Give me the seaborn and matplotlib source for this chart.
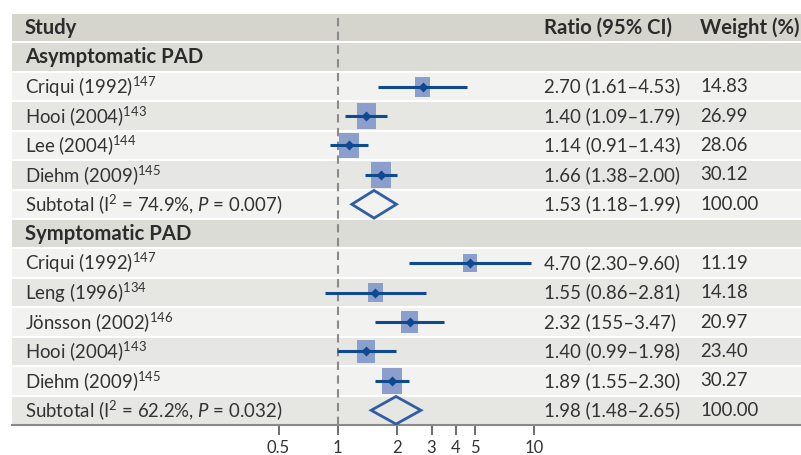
import numpy as np
import pandas as pd
import matplotlib
matplotlib.use("Agg")
import matplotlib.pyplot as plt
import matplotlib.transforms as mtransforms
from matplotlib.path import Path
from matplotlib.patches import Polygon
from matplotlib.ticker import FixedLocator, FixedFormatter, NullLocator
import seaborn as sns

# datos del forest plot
grupos = ["Asymptomatic PAD", "Symptomatic PAD"]
estudios = ["Criqui (1992)", "Hooi (2004)", "Lee (2004)", "Diehm (2009)",
            "Criqui (1992)", "Leng (1996)", "Jönsson (2002)", "Hooi (2004)", "Diehm (2009)"]
refs = ["147", "143", "144", "145", "147", "134", "146", "143", "145"]
grupo_idx = [0, 0, 0, 0, 1, 1, 1, 1, 1]
ratio = [2.70, 1.40, 1.14, 1.66, 4.70, 1.55, 2.32, 1.40, 1.89]
ci_lo = [1.61, 1.09, 0.91, 1.38, 2.30, 0.86, 1.55, 0.99, 1.55]
ci_hi = [4.53, 1.79, 1.43, 2.00, 9.60, 2.81, 3.47, 1.98, 2.30]
peso = [14.83, 26.99, 28.06, 30.12, 11.19, 14.18, 20.97, 23.40, 30.27]
ci_texto = ["2.70 (1.61–4.53)", "1.40 (1.09–1.79)", "1.14 (0.91–1.43)", "1.66 (1.38–2.00)",
            "4.70 (2.30–9.60)", "1.55 (0.86–2.81)", "2.32 (155–3.47)", "1.40 (0.99–1.98)",
            "1.89 (1.55–2.30)"]

sub_ratio = [1.53, 1.98]
sub_lo = [1.18, 1.48]
sub_hi = [1.99, 2.65]
sub_i2 = ["74.9", "62.2"]
sub_p = ["0.007", "0.032"]
sub_texto = ["1.53 (1.18–1.99)", "1.98 (1.48–2.65)"]

ticks = [0.5, 1, 2, 3, 4, 5, 10]
tick_labels = ["0.5", "1", "2", "3", "4", "5", "10"]

sns.set_theme(style="white")
plt.rcParams["font.family"] = ["Lato", "DejaVu Sans"]
plt.rcParams["mathtext.fontset"] = "custom"
plt.rcParams["mathtext.rm"] = "Lato"
plt.rcParams["mathtext.it"] = "Lato:italic"
plt.rcParams["mathtext.bf"] = "Lato:bold"

NAVY = "#0d4a8f"
CUADRO = "#8c9ecb"
TXT = "#333333"

# construir filas de la tabla
filas = []  # (tipo, indice)
filas.append(("head", None))
for g in range(2):
    filas.append(("grupo", g))
    for i in range(len(estudios)):
        if grupo_idx[i] == g:
            filas.append(("est", i))
    filas.append(("sub", g))

df = pd.DataFrame({
    "estudio": estudios, "ratio": ratio, "lo": ci_lo, "hi": ci_hi, "peso": peso,
})
df["fila"] = [k for k, (t, i) in enumerate(filas) if t == "est"]

fig = plt.figure(figsize=(8.01, 4.55), dpi=100)
W, H = 801, 455
ax = fig.add_axes([12 / W, 1 - 425 / H, (W - 12) / W, (425 - 13) / H])
ax.set_xscale("log")
ax.set_xlim(0.02204, 227.3)
ax.set_ylim(len(filas) - 0.5, -0.5)

# fondos de filas
for k, (t, i) in enumerate(filas):
    if t == "head":
        c = "#d5d5ce"
    elif t == "grupo":
        c = "#dcdcd6"
    else:
        c = "#f2f2f0" if k % 2 == 0 else "#e6e6e2"
    ax.axhspan(k - 0.5 + 0.035, k + 0.5 - 0.035, color=c, lw=0, zorder=0)

# linea de referencia
ax.axvline(1, color="#8a8a8a", lw=1.5, ls=(0, (4, 2.6)), zorder=1)

# cuadros ponderados (rectangulos)
w_px = 10.5 + 0.32 * df["peso"]
h_px = w_px * 1.32
rect = Path([(-0.38, -0.5), (0.38, -0.5), (0.38, 0.5), (-0.38, 0.5), (-0.38, -0.5)],
            [Path.MOVETO, Path.LINETO, Path.LINETO, Path.LINETO, Path.CLOSEPOLY])
sns.scatterplot(data=df, x="ratio", y="fila", marker=rect, s=(h_px * 0.72) ** 2,
                color=CUADRO, linewidth=0, ax=ax, zorder=2, legend=False)
ax.hlines(df["fila"], df["lo"], df["hi"], color=NAVY, lw=2.2, zorder=3)
sns.scatterplot(data=df, x="ratio", y="fila", marker="D", s=26, color=NAVY,
                linewidth=0, ax=ax, zorder=4, legend=False)

# diamantes de subtotal
for k, (t, g) in enumerate(filas):
    if t == "sub":
        dh = 0.47
        pts = [(sub_lo[g], k), (sub_ratio[g], k - dh), (sub_hi[g], k), (sub_ratio[g], k + dh)]
        ax.add_patch(Polygon(pts, closed=True, fill=False, edgecolor="#2f5ea6", lw=2, zorder=4))

# textos de la tabla
tr = mtransforms.blended_transform_factory(ax.transAxes, ax.transData)
x_est, x_ci, x_w = 0.0165, 0.674, 0.8725
fs = 13.4
fsb = 14.6
for k, (t, i) in enumerate(filas):
    if t == "head":
        ax.text(x_est, k, "Study", transform=tr, va="center", fontsize=fsb, fontweight="bold", color="#2b2b2b")
        ax.text(x_ci, k, "Ratio (95% CI)", transform=tr, va="center", fontsize=fsb, fontweight="bold", color="#2b2b2b")
        ax.text(x_w, k, "Weight (%)", transform=tr, va="center", fontsize=fsb, fontweight="bold", color="#2b2b2b")
    elif t == "grupo":
        ax.text(x_est, k, grupos[i], transform=tr, va="center", fontsize=fsb, fontweight="bold", color="#2b2b2b")
    elif t == "est":
        ax.text(x_est, k, estudios[i] + "$^{" + refs[i] + "}$", transform=tr, va="center", fontsize=fs, color=TXT)
        ax.text(x_ci, k, ci_texto[i], transform=tr, va="center", fontsize=fs, color=TXT)
        ax.text(x_w, k, f"{peso[i]:.2f}", transform=tr, va="center", fontsize=fs, color=TXT)
    else:
        lab = "Subtotal (I$^2$ = " + sub_i2[i] + "%, $P$ = " + sub_p[i] + ")"
        ax.text(x_est, k, lab, transform=tr, va="center", fontsize=fs, color=TXT)
        ax.text(x_ci, k, sub_texto[i], transform=tr, va="center", fontsize=fs, color=TXT)
        ax.text(x_w, k, "100.00", transform=tr, va="center", fontsize=fs, color=TXT)

# ejes
for s in ["left", "top", "right"]:
    ax.spines[s].set_visible(False)
ax.spines["bottom"].set_color("#8a8a8a")
ax.spines["bottom"].set_linewidth(1.5)
ax.xaxis.set_major_locator(FixedLocator(ticks))
ax.xaxis.set_major_formatter(FixedFormatter(tick_labels))
ax.xaxis.set_minor_locator(NullLocator())
ax.set_yticks([])
ax.set_xlabel("")
ax.set_ylabel("")
ax.tick_params(axis="x", bottom=True, length=7.5, width=1.2, color="#555555",
               labelsize=12, labelcolor=TXT, pad=3)

fig.savefig("out.png", dpi=100)
